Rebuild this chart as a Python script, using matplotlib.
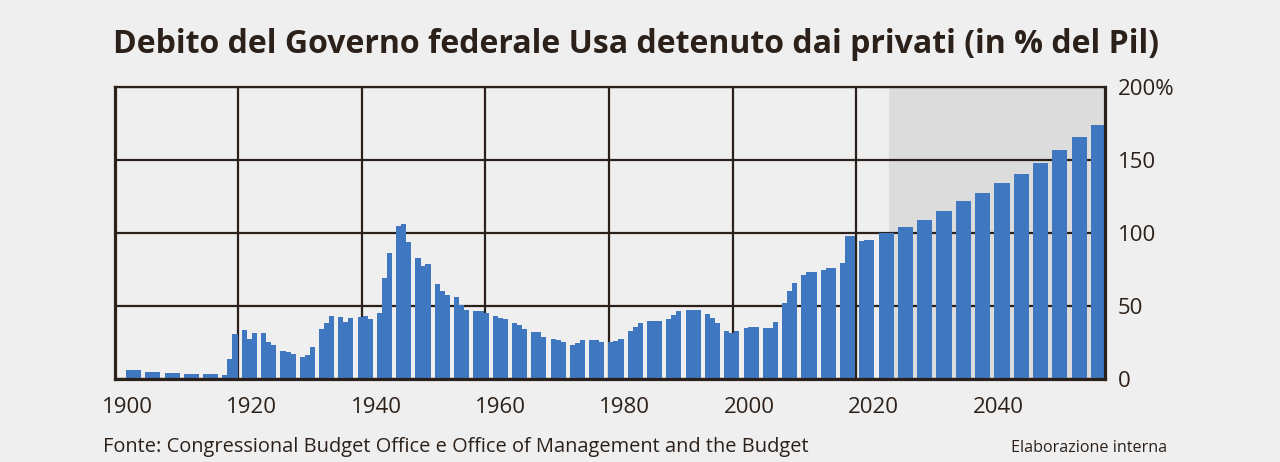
import numpy as np
import matplotlib.pyplot as plt

# Debito federale detenuto dai privati, % del Pil
# tre valori annuali per blocco, 51 blocchi dal 1900 alle proiezioni
debt = [
    6.4, 6.3, 6.2,   5.0, 4.9, 4.9,   4.1, 4.0, 4.0,   3.8, 3.8, 3.7,
    3.4, 3.3, 3.3,   2.9, 13.7, 31.0, 33.7, 27.3, 31.9, 31.9, 25.3, 23.2,
    19.1, 18.5, 17.3, 15.0, 16.6, 22.3, 34.5, 38.3, 43.3, 42.4, 39.4, 41.7,
    42.4, 43.3, 41.2, 45.1, 69.4, 86.5, 104.5, 106.0, 93.8, 82.7, 77.6, 78.8,
    65.4, 60.5, 57.6, 56.0, 50.8, 47.5, 46.9, 46.4, 45.1, 43.5, 41.7, 41.0,
    38.7, 37.1, 34.4, 32.1, 32.0, 28.7, 27.3, 26.9, 25.7, 23.2, 25.0, 26.7,
    27.1, 26.9, 25.5, 25.5, 26.0, 27.8, 33.2, 35.5, 38.3, 40.0, 40.1, 40.1,
    41.2, 43.9, 46.7, 47.4, 47.6, 47.4, 44.4, 41.7, 38.3, 33.2, 31.9, 33.0,
    34.9, 35.5, 35.5, 35.3, 35.3, 39.0, 52.0, 60.6, 66.0, 71.3, 73.1, 73.1,
    74.7, 75.9, 76.0, 79.3, 97.9, 97.9, 94.7, 95.0, 95.2, 99.8, 99.8, 99.8,
    104.3, 104.3, 104.3, 108.9, 108.9, 108.9, 115.2, 115.2, 115.2,
    121.7, 121.7, 121.7, 127.5, 127.5, 127.5, 134.0, 134.0, 134.0,
    140.5, 140.5, 140.5, 147.8, 147.8, 147.8, 156.9, 156.9, 156.9,
    165.4, 165.4, 165.4, 173.8, 173.8, 173.8,
]
year_labels = ['1900', '1920', '1940', '1960', '1980', '2000', '2020', '2040']
y_ticks = [0, 50, 100, 150, 200]
y_labels = ['0', '50', '100', '150', '200%']

bg = '#efefef'
shade = '#dcdcdc'
blue = '#3f77c0'
ink = '#2b211a'

plt.rcParams['font.family'] = ['Open Sans', 'DejaVu Sans']

fig = plt.figure(figsize=(12.8, 4.62), dpi=100, facecolor=bg)
ax = fig.add_axes([115 / 1280, (462 - 379.3) / 462, 990 / 1280, 292.6 / 462])
ax.set_facecolor(bg)

# bars grouped three at a time with a small gap between groups
idx = np.arange(len(debt))
sub_w = 2.33 / 3
x_left = (idx // 3) * 3 + (idx % 3) * sub_w
ax.bar(x_left, debt, width=sub_w + 0.03, align='edge', color=blue,
       linewidth=0, zorder=3)

ax.set_xlim(-1.71, 152.2)
ax.set_ylim(0, 200)

# projection area
ax.axvspan(118.6, 152.2, color=shade, zorder=0, linewidth=0)

# grid
grid_pos = np.arange(1, 7) * 19.22 - 1.8
ax.vlines(grid_pos, 0, 200, color=ink, linewidth=1.6, zorder=2)
ax.set_yticks(y_ticks, y_labels)
ax.grid(axis='y', color=ink, linewidth=1.6, zorder=2)
ax.set_axisbelow(True)

tick_pos = np.arange(len(year_labels)) * 19.35 + 0.16
ax.set_xticks(tick_pos, year_labels)

ax.yaxis.tick_right()
ax.tick_params(axis='y', length=0, pad=9, labelsize=16, labelcolor=ink)
ax.tick_params(axis='x', length=0, pad=13, labelsize=16, labelcolor=ink)
for lab in ax.get_yticklabels():
    lab.set_horizontalalignment('left')

for side in ['left', 'right', 'bottom']:
    ax.spines[side].set_linewidth(2.3)
    ax.spines[side].set_color(ink)
ax.spines['top'].set_linewidth(1.6)
ax.spines['top'].set_color(ink)
for s in ax.spines.values():
    s.set_zorder(4)

fig.text(0.497, 1 - 52.7 / 462,
         'Debito del Governo federale Usa detenuto dai privati (in % del Pil)',
         ha='center', va='baseline', fontsize=23, fontweight='bold', color=ink)
fig.text(103 / 1280, 1 - 452 / 462,
         'Fonte: Congressional Budget Office e Office of Management and the Budget',
         ha='left', va='baseline', fontsize=14.4, color=ink)
fig.text(1167 / 1280, 1 - 452 / 462, 'Elaborazione interna',
         ha='right', va='baseline', fontsize=11.6, color=ink)

plt.savefig('out.png', dpi=100, facecolor=bg)
